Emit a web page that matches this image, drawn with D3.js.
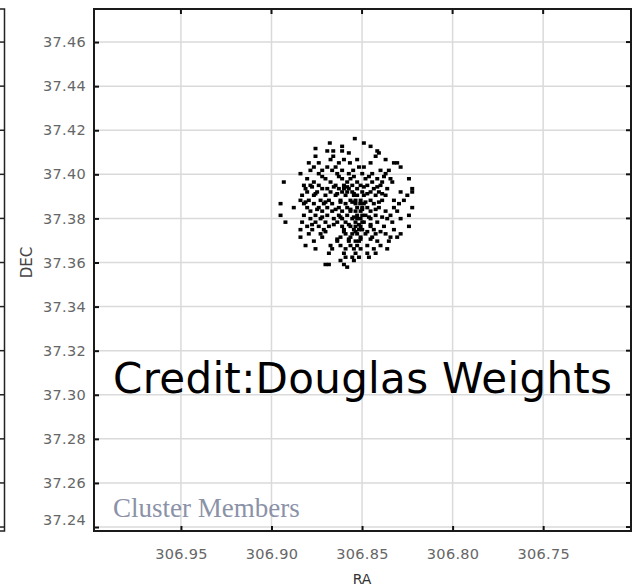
<!DOCTYPE html>
<html>
<head>
<meta charset="utf-8">
<script src="https://cdn.jsdelivr.net/npm/d3@7"></script>
<style>
  html, body { margin: 0; padding: 0; background: #fff; }
  svg { display: block; }
</style>
</head>
<body>
<div id="chart"></div>
<script>
// ---- data ----
const raTicks  = [306.95, 306.90, 306.85, 306.80, 306.75];
const decTicks = [37.24, 37.26, 37.28, 37.30, 37.32, 37.34, 37.36, 37.38, 37.40, 37.42, 37.44, 37.46];
const raDomain  = [306.998, 306.7015];
const decDomain = [37.2382, 37.475];
const xTitle = "RA";
const yTitle = "DEC";
const creditText = "Credit:Douglas Weights";
const legendText = "Cluster Members";

// cluster members, grouped by DEC row
const memberDec = [
  37.4162, 37.4142, 37.4127, 37.4117, 37.4106, 37.4097, 37.4082, 37.4067, 37.4052, 37.4033,
  37.4018, 37.4003, 37.3980, 37.3965, 37.3950, 37.3935, 37.3920, 37.3905, 37.3882, 37.3867,
  37.3849, 37.3833, 37.3814, 37.3799, 37.3783, 37.3764, 37.3749, 37.3730, 37.3715, 37.3697,
  37.3677, 37.3662, 37.3642, 37.3624, 37.3609, 37.3591, 37.3579,
  37.3990, 37.3943, 37.3912, 37.3874, 37.3841, 37.3806, 37.3772, 37.3740, 37.3706
];
const memberRa = [
  [306.8540],
  [306.8678, 306.8490],
  [306.8610, 306.8453],
  [306.8757],
  [306.8692, 306.8659, 306.8610, 306.8416],
  [306.8573, 306.8407],
  [306.8757, 306.8659, 306.8425],
  [306.8674, 306.8600, 306.8527, 306.8370],
  [306.8794, 306.8739, 306.8628, 306.8567, 306.8453, 306.8324, 306.8306],
  [306.8766, 306.8692, 306.8646, 306.8517, 306.8490, 306.8287],
  [306.8785, 306.8720, 306.8665, 306.8610, 306.8549, 306.8398, 306.8352],
  [306.8840, 306.8739, 306.8637, 306.8573, 306.8499, 306.8444, 306.8370],
  [306.8803, 306.8702, 306.8610, 306.8564, 306.8481, 306.8416, 306.8343, 306.8241],
  [306.8932, 306.8766, 306.8674, 306.8582, 306.8527, 306.8444, 306.8389, 306.8333],
  [306.8821, 306.8785, 306.8739, 306.8646, 306.8600, 306.8508, 306.8471, 306.8398, 306.8554],
  [306.8812, 306.8720, 306.8692, 306.8628, 306.8573, 306.8527, 306.8435, 306.8361, 306.8223, 306.8600],
  [306.8803, 306.8748, 306.8674, 306.8610, 306.8554, 306.8499, 306.8453, 306.8407, 306.8287, 306.8223, 306.8582],
  [306.8831, 306.8766, 306.8702, 306.8646, 306.8591, 306.8545, 306.8490, 306.8425, 306.8370, 306.8250, 306.8527],
  [306.8840, 306.8794, 306.8729, 306.8683, 306.8619, 306.8564, 306.8508, 306.8453, 306.8389, 306.8324, 306.8269, 306.8536],
  [306.8950, 306.8821, 306.8766, 306.8711, 306.8665, 306.8591, 306.8536, 306.8490, 306.8435, 306.8296, 306.8510],
  [306.8877, 306.8803, 306.8739, 306.8692, 306.8628, 306.8582, 306.8527, 306.8471, 306.8407, 306.8324, 306.8223, 306.8499],
  [306.8785, 306.8720, 306.8665, 306.8610, 306.8564, 306.8508, 306.8453, 306.8370, 306.8306, 306.8536],
  [306.8950, 306.8821, 306.8757, 306.8692, 306.8628, 306.8582, 306.8527, 306.8481, 306.8425, 306.8343, 306.8241, 306.8499],
  [306.8785, 306.8729, 306.8656, 306.8610, 306.8554, 306.8508, 306.8453, 306.8361, 306.8287, 306.8527],
  [306.8923, 306.8831, 306.8757, 306.8702, 306.8637, 306.8591, 306.8536, 306.8490, 306.8416, 306.8333, 306.8499],
  [306.8803, 306.8739, 306.8683, 306.8610, 306.8564, 306.8508, 306.8453, 306.8379, 306.8241, 306.8536],
  [306.8840, 306.8775, 306.8711, 306.8600, 306.8545, 306.8499, 306.8435, 306.8324, 306.8517],
  [306.8794, 306.8729, 306.8591, 306.8527, 306.8481, 306.8425, 306.8370, 306.8287, 306.8554],
  [306.8840, 306.8720, 306.8619, 306.8564, 306.8508, 306.8444, 306.8343, 306.8306],
  [306.8766, 306.8637, 306.8573, 306.8517, 306.8416, 306.8352, 306.8536],
  [306.8812, 306.8674, 306.8619, 306.8564, 306.8527, 306.8471, 306.8398],
  [306.8757, 306.8665, 306.8591, 306.8545, 306.8508, 306.8435, 306.8361],
  [306.8683, 306.8600, 306.8536, 306.8471, 306.8425],
  [306.8591, 306.8554, 306.8517, 306.8462],
  [306.8619, 306.8545],
  [306.8702, 306.8683, 306.8600],
  [306.8582],
  [306.8720, 306.8628, 306.8545, 306.8462, 306.8379],
  [306.8776, 306.8656, 306.8582, 306.8490, 306.8416],
  [306.8757, 306.8637, 306.8545, 306.8471, 306.8389],
  [306.8812, 306.8702, 306.8619, 306.8554, 306.8481, 306.8407],
  [306.8748, 306.8646, 306.8564, 306.8499, 306.8425],
  [306.8720, 306.8619, 306.8545, 306.8462, 306.8389],
  [306.8776, 306.8656, 306.8573, 306.8517, 306.8453],
  [306.8702, 306.8600, 306.8536, 306.8471, 306.8398],
  [306.8637, 306.8573, 306.8508, 306.8453]
];

// ---- layout ----
const W = 635, H = 588;
const plot = { left: 94, right: 631, top: 9, bottom: 531 };

const svg = d3.select("#chart").append("svg")
  .attr("width", W).attr("height", H)
  .style("background", "#fff");

const x = d3.scaleLinear().domain(raDomain).range([plot.left, plot.right]);
const y = d3.scaleLinear().domain(decDomain).range([plot.bottom, plot.top]);

// grid
const grid = svg.append("g").attr("stroke", "#dadada").attr("stroke-width", 1.5);
grid.selectAll("line.gx").data(raTicks).join("line")
  .attr("x1", d => x(d)).attr("x2", d => x(d))
  .attr("y1", plot.top).attr("y2", plot.bottom);
grid.selectAll("line.gy").data(decTicks).join("line")
  .attr("x1", plot.left).attr("x2", plot.right)
  .attr("y1", d => y(d)).attr("y2", d => y(d));

// partial neighbouring panel at far left
const lp = svg.append("g").attr("stroke", "#222").attr("stroke-width", 1.5).attr("fill", "none");
lp.append("path").attr("d", `M0,${plot.top}H4.5V${plot.bottom}H0`);
lp.selectAll("line").data(decTicks).join("line")
  .attr("x1", 0).attr("x2", 4.5)
  .attr("y1", d => y(d)).attr("y2", d => y(d));

// axes
const fontAxis = "'DejaVu Sans', sans-serif";
const yAxis = svg.append("g")
  .attr("transform", `translate(${plot.left},0)`)
  .call(d3.axisLeft(y).tickValues(decTicks).tickFormat(d3.format(".2f")).tickSize(-5).tickPadding(8));
const xAxis = svg.append("g")
  .attr("transform", `translate(0,${plot.bottom})`)
  .call(d3.axisBottom(x).tickValues(raTicks).tickFormat(d3.format(".2f")).tickSize(-5).tickPadding(18));
[xAxis, yAxis].forEach(a => {
  a.select(".domain").remove();
  a.selectAll(".tick line").attr("stroke", "#111").attr("stroke-width", 2);
  a.selectAll(".tick text")
    .attr("fill", "#666")
    .style("font-family", fontAxis)
    .style("font-size", "14.5px")
    .style("letter-spacing", "0.3px");
});
// lowest DEC label sits a little above its tick
yAxis.selectAll(".tick text").filter(d => d === decTicks[0]).attr("dy", "-0.15em");

// ticks on right and top edges
const edge = svg.append("g").attr("stroke", "#111").attr("stroke-width", 2);
edge.selectAll("line.r").data(decTicks).join("line")
  .attr("x1", plot.right - 5).attr("x2", plot.right)
  .attr("y1", d => y(d)).attr("y2", d => y(d));
edge.selectAll("line.t").data(raTicks).join("line").attr("class", "t")
  .attr("x1", d => x(d)).attr("x2", d => x(d))
  .attr("y1", plot.top).attr("y2", plot.top + 5);

// frame
svg.append("rect")
  .attr("x", plot.left).attr("y", plot.top)
  .attr("width", plot.right - plot.left).attr("height", plot.bottom - plot.top)
  .attr("fill", "none").attr("stroke", "#1a1a1a").attr("stroke-width", 2);

// points
const pts = [];
memberDec.forEach((dec, i) => memberRa[i].forEach(ra => pts.push([ra, dec])));
svg.append("g").selectAll("rect").data(pts).join("rect")
  .attr("x", d => x(d[0]) - 2).attr("y", d => y(d[1]) - 1.75)
  .attr("width", 4).attr("height", 3.5)
  .attr("fill", "#000");

// axis titles
svg.append("text")
  .attr("x", x(306.85)).attr("y", 584)
  .attr("text-anchor", "middle")
  .style("font-family", fontAxis).style("font-size", "14px")
  .attr("fill", "#333").text(xTitle);
svg.append("text")
  .attr("transform", `translate(32,${y(37.36)}) rotate(-90)`)
  .attr("text-anchor", "middle")
  .style("font-family", fontAxis).style("font-size", "15px")
  .attr("fill", "#444").text(yTitle);

// overlay texts
svg.append("text")
  .attr("x", 113).attr("y", 393)
  .attr("textLength", 499).attr("lengthAdjust", "spacing")
  .style("font-family", "'DejaVu Sans', sans-serif").style("font-size", "42px")
  .attr("fill", "#000").text(creditText);
svg.append("text")
  .attr("x", 113).attr("y", 517)
  .style("font-family", "'Liberation Serif', serif").style("font-size", "27px")
  .attr("fill", "#8b92a8").text(legendText);
</script>
</body>
</html>
